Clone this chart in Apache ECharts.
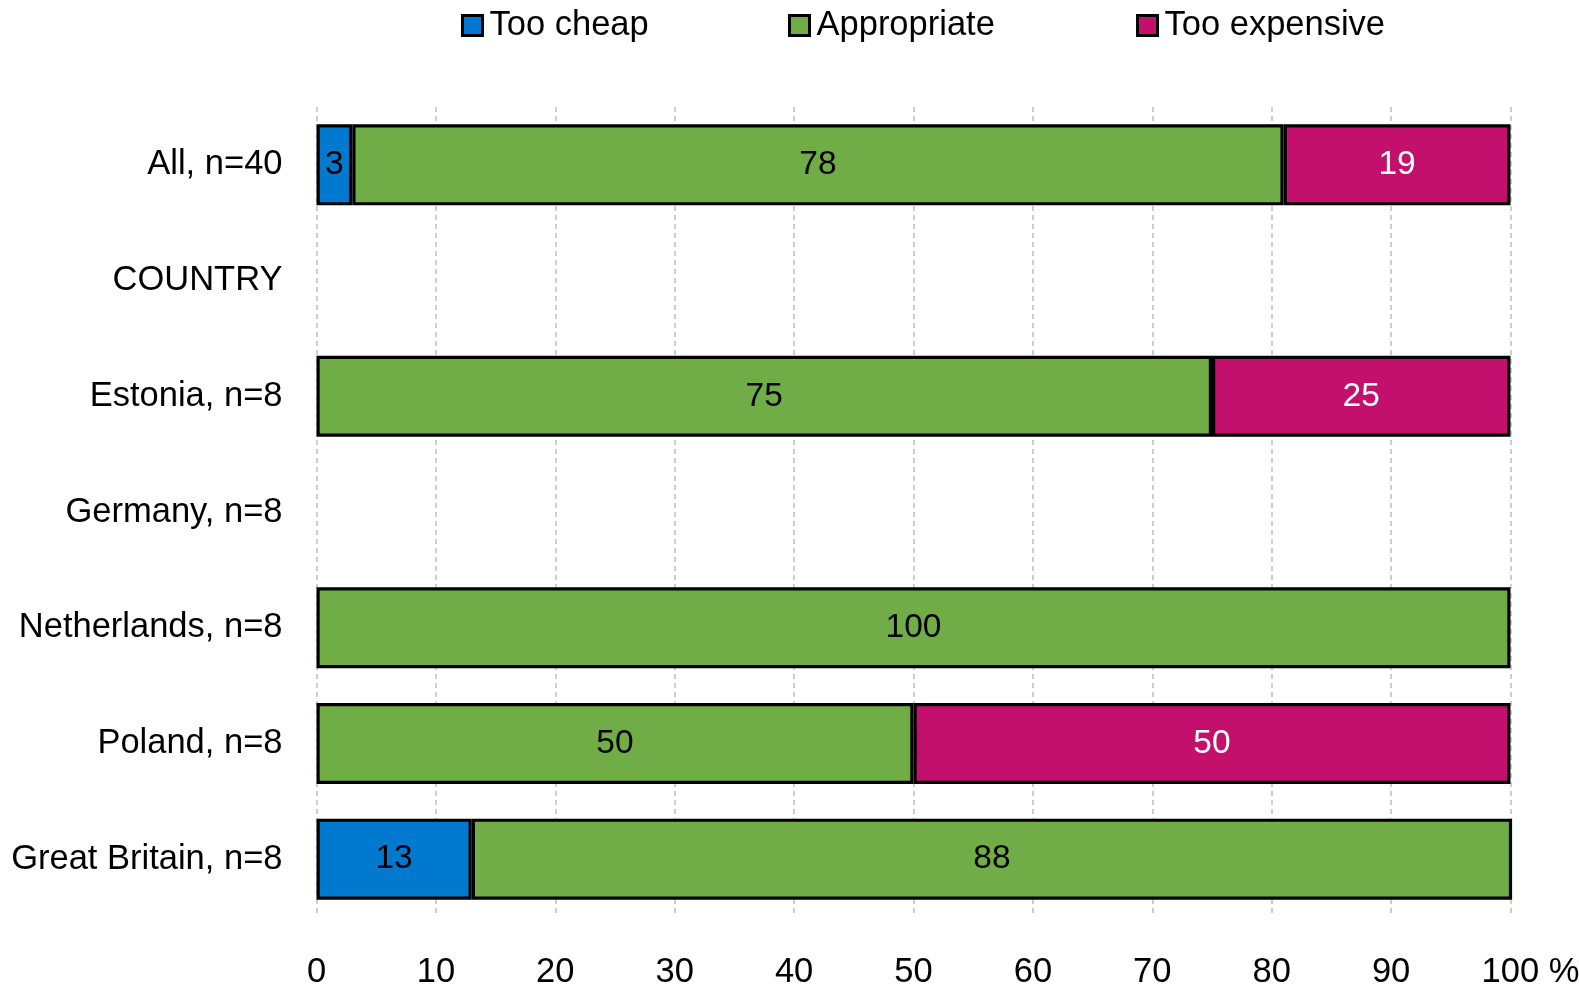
<!DOCTYPE html>
<html>
<head>
<meta charset="utf-8">
<script src="https://cdn.jsdelivr.net/npm/echarts@6/dist/echarts.min.js"></script>
<style>
html,body{margin:0;padding:0;background:#fff;}
#c{width:1579px;height:984px;}
</style>
</head>
<body>
<div id="c"></div>
<script>
const categories = ['All, n=40', 'COUNTRY', 'Estonia, n=8', 'Germany, n=8', 'Netherlands, n=8', 'Poland, n=8', 'Great Britain, n=8'];
const seriesNames = ['Too cheap', 'Appropriate', 'Too expensive'];
const tooCheap = [3, null, null, null, null, null, 13];
const appropriate = [78, null, 75, null, 100, 50, 88];
const tooExpensive = [19, null, 25, null, null, 50, null];
const xTicks = [0, 10, 20, 30, 40, 50, 60, 70, 80, 90, 100];

const FONT = 'Liberation Sans';
const FS = 34.5;
const colors = ['#0079CF', '#70AD47', '#C2106C'];
const labelColors = ['#000', '#000', '#fff'];
const values = [tooCheap, appropriate, tooExpensive];
const legendLefts = [456, 783, 1131];

const chart = echarts.init(document.getElementById('c'), null, {renderer: 'canvas'});

const series = seriesNames.map((name, i) => ({
  name: name,
  type: 'bar',
  stack: 'total',
  data: values[i],
  barCategoryGap: '30%',
  clip: true,
  itemStyle: {color: colors[i], borderColor: '#000', borderWidth: 3.2},
  label: {
    show: true,
    position: 'inside',
    color: labelColors[i],
    fontFamily: FONT,
    fontSize: 33.5,
    formatter: p => (p.value == null ? '' : String(p.value))
  },
  emphasis: {disabled: true}
}));

const legends = seriesNames.map((name, i) => ({
  top: 3,
  left: legendLefts[i],
  itemWidth: 20,
  itemHeight: 20,
  icon: 'rect',
  itemStyle: {borderColor: '#000', borderWidth: 3},
  textStyle: {fontFamily: FONT, fontSize: FS, color: '#000', padding: [0, 0, 0, 2]},
  data: [name]
}));

chart.setOption({
  animation: false,
  textStyle: {fontFamily: FONT},
  legend: legends,
  grid: {left: 316.5, right: 68.5, top: 107, bottom: 67, containLabel: false, outerBoundsMode: 'none'},
  xAxis: {
    type: 'value',
    min: 0,
    max: 100,
    interval: 10,
    axisLine: {show: false},
    axisTick: {show: false},
    splitLine: {show: true, lineStyle: {color: '#BFBFBF', width: 1.5, type: [5, 4]}},
    axisLabel: {
      margin: 38,
      fontFamily: FONT,
      fontSize: FS,
      color: '#000',
      formatter: v => (v === 100 ? '{sp|}100 %' : String(v)),
      rich: {sp: {width: 40, fontSize: FS, fontFamily: FONT}}
    }
  },
  yAxis: {
    type: 'category',
    inverse: true,
    data: categories,
    axisLine: {show: false},
    axisTick: {show: false},
    splitLine: {show: false},
    axisLabel: {margin: 34, fontFamily: FONT, fontSize: FS, color: '#000'}
  },
  series: series
});
</script>
</body>
</html>
